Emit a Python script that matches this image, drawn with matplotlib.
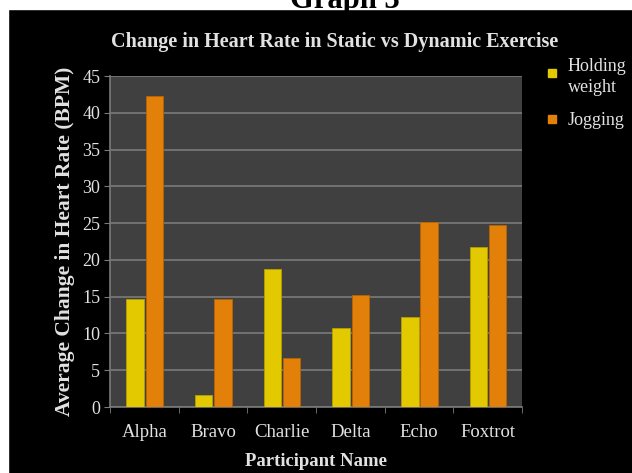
import matplotlib.pyplot as plt
import matplotlib.patches as mpatches
import numpy as np

participants = ['Alpha', 'Bravo', 'Charlie', 'Delta', 'Echo', 'Foxtrot']
holding_weight = [14.7, 1.7, 18.8, 10.7, 12.2, 21.8]
jogging = [42.3, 14.7, 6.7, 15.2, 25.2, 24.7]
series_names = ['Holding\nweight', 'Jogging']
y_ticks = [0, 5, 10, 15, 20, 25, 30, 35, 40, 45]

YELLOW = '#e2c900'
ORANGE = '#e3800a'
TEXT = '#e2e2e2'
LINE = '#7a7a7a'
SERIF = ['Liberation Serif', 'DejaVu Serif']

W, H = 632, 473
fig = plt.figure(figsize=(W / 100, H / 100), dpi=100, facecolor='black')

# white margin strips along the top and left edge of the page
fig.patches.append(mpatches.Rectangle((0, 0.982), 1, 0.018, transform=fig.transFigure,
                                      color='white', zorder=0))
fig.patches.append(mpatches.Rectangle((0, 0), 0.013, 1, transform=fig.transFigure,
                                      color='white', zorder=0))
fig.text(0.545, 0.984, 'Graph 3', ha='center', va='baseline', fontsize=22, fontweight='bold',
         family=SERIF, color='black')

ax = fig.add_axes([0.174, 0.1395, 0.652, 0.6995])
ax.set_facecolor('#404040')

x = np.arange(len(participants))
w = 0.255
ax.bar(x - 0.135, holding_weight, w, color=YELLOW, edgecolor='#b89e00', linewidth=0.6,
       zorder=3)
ax.bar(x + 0.145, jogging, w, color=ORANGE, edgecolor='#b86400', linewidth=0.6,
       zorder=3)

ax.set_xlim(-0.5, len(participants) - 0.5)
ax.set_ylim(0, 45)
ax.set_yticks(y_ticks)
ax.set_yticklabels([str(v) for v in y_ticks], family=SERIF, fontsize=13, color=TEXT)
ax.yaxis.grid(True, color=LINE, linewidth=1.2, zorder=1)
ax.set_axisbelow(True)

ax.set_xticks(x)
ax.set_xticklabels(participants, family=SERIF, fontsize=13.5, color=TEXT)
ax.tick_params(axis='x', length=0, pad=12)
ax.set_xticks(np.arange(-0.5, len(participants)), minor=True)
ax.tick_params(axis='x', which='minor', length=4, color=LINE)
ax.tick_params(axis='y', length=4, color=LINE, pad=3)

for side in ['top', 'right']:
    ax.spines[side].set_visible(False)
for side in ['left', 'bottom']:
    ax.spines[side].set_color(LINE)
    ax.spines[side].set_linewidth(1.2)

fig.text(0.53, 0.911, 'Change in Heart Rate in Static vs Dynamic Exercise', family=SERIF,
         fontsize=14.5, fontweight='bold', color=TEXT, ha='center', va='center')
ax.set_xlabel('Participant Name', family=SERIF, fontsize=13.5, fontweight='bold',
              color=TEXT, labelpad=9)
ax.set_ylabel('Average Change in Heart Rate (BPM)', family=SERIF, fontsize=15.5,
              fontweight='bold', color=TEXT, labelpad=5)

# legend: marker squares sit beside the first line of each label
sq = 8
for name, color, text_top, sq_mid in zip(series_names, [YELLOW, ORANGE], [58, 112], [73, 119]):
    fig.patches.append(mpatches.Rectangle(((552 - sq / 2) / W, 1 - (sq_mid + sq / 2) / H),
                                          sq / W, sq / H, transform=fig.transFigure,
                                          color=color))
    fig.text(568 / W, 1 - text_top / H, name, family=SERIF, fontsize=13, color=TEXT,
             ha='left', va='top', linespacing=1.3)

fig.savefig('out.png', dpi=100, facecolor='black')
